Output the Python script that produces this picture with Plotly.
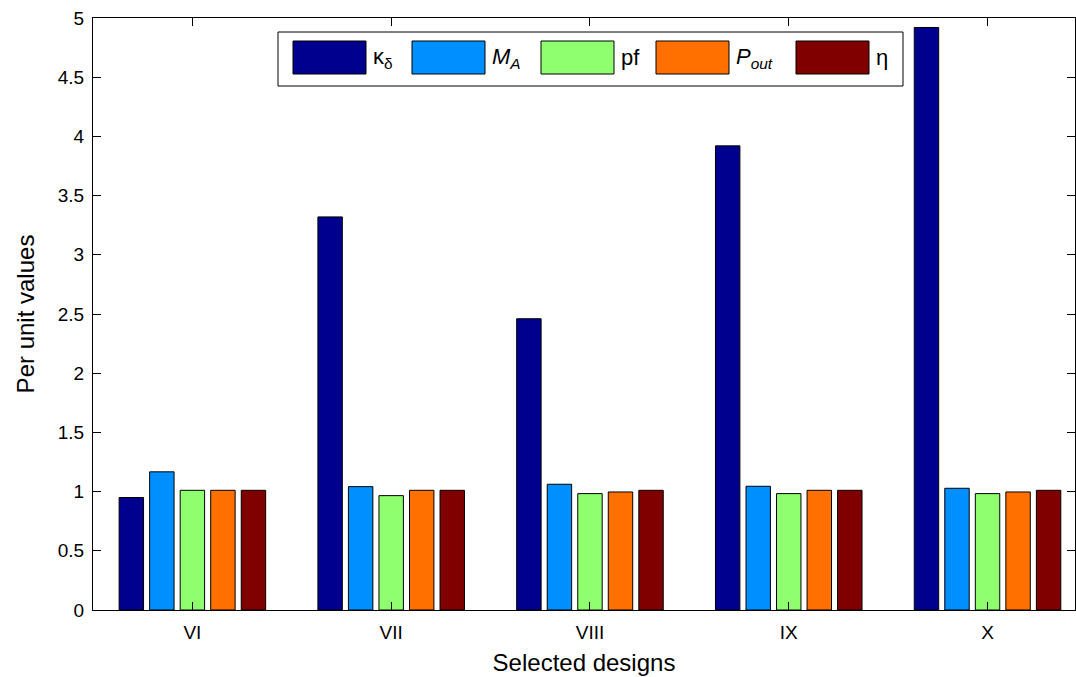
import plotly.graph_objects as go

designs = ["VI", "VII", "VIII", "IX", "X"]
series_names = ["κ<sub>δ</sub>", "<i>M<sub>A</sub></i>", "pf", "<i>P<sub>out</sub></i>", "η"]
kappa_delta = [0.95, 3.32, 2.46, 3.92, 4.92]
M_A = [1.167, 1.042, 1.062, 1.045, 1.028]
pf = [1.011, 0.966, 0.983, 0.983, 0.983]
P_out = [1.011, 1.011, 0.997, 1.011, 0.997]
eta = [1.011, 1.011, 1.011, 1.011, 1.011]
y_ticks = [0, 0.5, 1, 1.5, 2, 2.5, 3, 3.5, 4, 4.5, 5]

series_values = [kappa_delta, M_A, pf, P_out, eta]
colors = ["#00008F", "#008FFF", "#8FFF70", "#FF7000", "#800000"]

W, H = 1076, 677
L, R, T, B = 93, 1, 18, 67
PW, PH = W - L - R, H - T - B

def px(x):
    return (x - L) / PW

def py(y):
    return (H - B - y) / PH

fig = go.Figure()
for name, vals, col in zip(series_names, series_values, colors):
    fig.add_trace(go.Bar(x=designs, y=vals, name=name, marker=dict(color=col, line=dict(color="black", width=1)), showlegend=False))

font_family = "Liberation Sans, Arial, sans-serif"

# legend box drawn as layout shapes
shapes = [dict(type="rect", xref="paper", yref="paper", x0=px(278), x1=px(903), y0=py(86), y1=py(32),
               line=dict(color="black", width=1), fillcolor="white", layer="above")]
annotations = []
sw_left = [293, 412, 541, 656, 796]
for i, (name, col) in enumerate(zip(series_names, colors)):
    x0 = sw_left[i]
    shapes.append(dict(type="rect", xref="paper", yref="paper", x0=px(x0), x1=px(x0 + 73), y0=py(74), y1=py(41),
                       line=dict(color="black", width=1), fillcolor=col, layer="above"))
    annotations.append(dict(xref="paper", yref="paper", x=px(x0 + 78), y=py(58), text=name, showarrow=False,
                            xanchor="left", yanchor="middle", font=dict(size=22, color="black", family=font_family)))

fig.update_layout(
    width=W, height=H,
    margin=dict(l=L, r=R, t=T, b=B),
    paper_bgcolor="white", plot_bgcolor="white",
    barmode="group", bargap=0.232, bargroupgap=0.2,
    font=dict(family=font_family, color="black", size=18),
    shapes=shapes, annotations=annotations,
    xaxis=dict(type="category", range=[-0.5, 4.44], showline=True, linecolor="black", linewidth=1, mirror="ticks",
               ticks="inside", ticklen=8, tickcolor="black", showgrid=False, tickfont=dict(size=19),
               ticklabelstandoff=5,
               title=dict(text="Selected designs", font=dict(size=24), standoff=12)),
    yaxis=dict(range=[0, 5], tickvals=y_ticks, showline=True, linecolor="black", linewidth=1, mirror="ticks",
               ticks="inside", ticklen=8, tickcolor="black", showgrid=False, zeroline=False, tickfont=dict(size=19),
               ticklabelstandoff=4,
               title=dict(text="Per unit values", font=dict(size=24), standoff=16)),
)

fig.write_html("out.html")
